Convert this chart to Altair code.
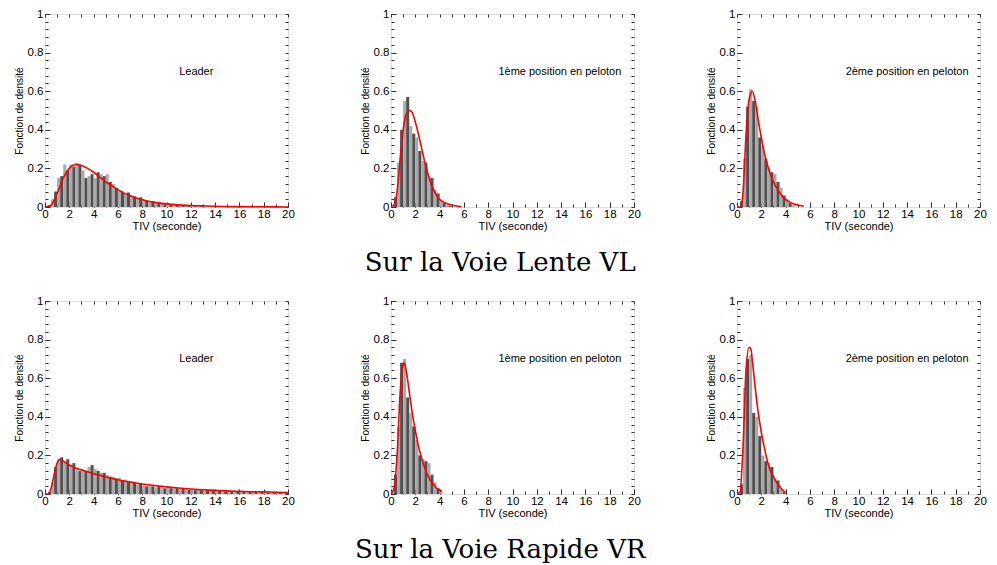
import altair as alt
import pandas as pd

BIN_WIDTH = 0.25
X_MAJOR = [0, 2, 4, 6, 8, 10, 12, 14, 16, 18, 20]
X_MINOR = list(range(21))
Y_MAJOR = [0, 0.2, 0.4, 0.6, 0.8, 1.0]
Y_MINOR = [round(i * 0.04, 2) for i in range(26)]

# ---- Voie Lente (VL) ----
vl_leader_hist = [0.0, 0.01, 0.04, 0.08, 0.15, 0.16, 0.22, 0.19, 0.22, 0.21, 0.23, 0.22,
                  0.19, 0.15, 0.16, 0.17, 0.15, 0.18, 0.17, 0.16, 0.17, 0.13, 0.12, 0.10,
                  0.085, 0.08, 0.07, 0.075, 0.06, 0.055, 0.045, 0.05, 0.04, 0.035, 0.03, 0.03,
                  0.02, 0.025, 0.02, 0.015, 0.02, 0.012, 0.012, 0.01, 0.012, 0.008, 0.009, 0.007,
                  0.008, 0.006, 0.006, 0.005]
vl_leader_tx = [0, 0.5, 1, 1.5, 2, 2.5, 3, 3.5, 4, 4.5, 5, 5.5, 6, 6.5, 7, 7.5, 8, 8.5, 9,
                10, 11, 12, 13, 14, 16, 18, 20]
vl_leader_ty = [0, 0.01, 0.07, 0.15, 0.2, 0.22, 0.215, 0.2, 0.18, 0.155, 0.13, 0.11, 0.09,
                0.072, 0.058, 0.047, 0.038, 0.03, 0.024, 0.016, 0.011, 0.008, 0.006, 0.004,
                0.002, 0.001, 0.0]

vl_p1_hist = [0.0, 0.05, 0.23, 0.40, 0.55, 0.57, 0.42, 0.38, 0.36, 0.29, 0.24, 0.23,
              0.16, 0.15, 0.09, 0.07, 0.03, 0.02, 0.01, 0.005]
vl_p1_tx = [0, 0.25, 0.5, 0.75, 1.0, 1.25, 1.5, 1.75, 2.0, 2.25, 2.5, 2.75, 3.0, 3.25, 3.5,
            3.75, 4.0, 4.5, 5.0, 5.5, 5.8]
vl_p1_ty = [0, 0.01, 0.08, 0.25, 0.40, 0.48, 0.50, 0.49, 0.44, 0.38, 0.31, 0.24, 0.18, 0.13,
            0.09, 0.06, 0.04, 0.02, 0.01, 0.004, 0.002]

vl_p2_hist = [0.0, 0.03, 0.25, 0.52, 0.61, 0.55, 0.52, 0.36, 0.32, 0.25, 0.20, 0.18,
              0.17, 0.13, 0.10, 0.06, 0.04, 0.02, 0.01]
vl_p2_tx = [0, 0.25, 0.4, 0.5, 0.75, 1.0, 1.25, 1.5, 1.75, 2.0, 2.25, 2.5, 2.75, 3.0, 3.25,
            3.5, 3.75, 4.0, 4.5, 5.0, 5.5]
vl_p2_ty = [0, 0.0, 0.02, 0.08, 0.38, 0.56, 0.60, 0.55, 0.45, 0.36, 0.28, 0.22, 0.17, 0.13,
            0.10, 0.075, 0.055, 0.04, 0.02, 0.01, 0.004]

# ---- Voie Rapide (VR) ----
vr_leader_hist = [0.0, 0.01, 0.06, 0.14, 0.18, 0.19, 0.17, 0.18, 0.15, 0.16, 0.13, 0.12,
                  0.12, 0.12, 0.14, 0.15, 0.13, 0.12, 0.11, 0.11, 0.10, 0.09, 0.09, 0.08,
                  0.085, 0.07, 0.075, 0.065, 0.065, 0.06, 0.05, 0.055, 0.045, 0.04, 0.045, 0.04,
                  0.035, 0.04, 0.035, 0.03, 0.035, 0.03, 0.028, 0.03, 0.025, 0.028, 0.025, 0.022,
                  0.025, 0.02, 0.022, 0.02, 0.018, 0.02, 0.017, 0.018, 0.015, 0.017, 0.014, 0.015,
                  0.013, 0.014, 0.012, 0.013, 0.011, 0.012, 0.01, 0.011, 0.009, 0.01, 0.009, 0.01,
                  0.008, 0.009, 0.008, 0.008, 0.007, 0.008, 0.006, 0.007]
vr_leader_tx = [0, 0.25, 0.5, 0.75, 1.0, 1.25, 1.5, 1.75, 2.0, 2.5, 3, 3.5, 4, 4.5, 5, 6, 7,
                8, 9, 10, 11, 12, 13, 14, 15, 16, 17, 18, 19, 20]
vr_leader_ty = [0, 0.0, 0.03, 0.10, 0.16, 0.18, 0.17, 0.16, 0.15, 0.135, 0.125, 0.115, 0.105,
                0.097, 0.088, 0.074, 0.062, 0.052, 0.044, 0.037, 0.031, 0.026, 0.022, 0.019,
                0.016, 0.014, 0.012, 0.011, 0.009, 0.008]

vr_p1_hist = [0.01, 0.10, 0.35, 0.68, 0.70, 0.50, 0.42, 0.35, 0.28, 0.20, 0.18, 0.17,
              0.16, 0.10, 0.06, 0.03, 0.01]
vr_p1_tx = [0, 0.25, 0.5, 0.75, 1.0, 1.1, 1.25, 1.5, 1.75, 2.0, 2.25, 2.5, 2.75, 3.0, 3.25,
            3.5, 3.75, 4.0, 4.2]
vr_p1_ty = [0, 0.03, 0.20, 0.52, 0.67, 0.68, 0.64, 0.53, 0.42, 0.33, 0.25, 0.19, 0.14, 0.10,
            0.07, 0.05, 0.03, 0.02, 0.015]

vr_p2_hist = [0.0, 0.05, 0.55, 0.70, 0.72, 0.42, 0.40, 0.30, 0.20, 0.17, 0.16, 0.14,
              0.08, 0.07, 0.03, 0.01]
vr_p2_tx = [0, 0.25, 0.5, 0.75, 1.0, 1.15, 1.25, 1.5, 1.75, 2.0, 2.25, 2.5, 2.75, 3.0, 3.25,
            3.5, 3.75, 4.0]
vr_p2_ty = [0, 0.01, 0.25, 0.65, 0.76, 0.75, 0.70, 0.55, 0.42, 0.32, 0.24, 0.17, 0.12, 0.09,
            0.06, 0.04, 0.02, 0.01]

LABELS = ["Leader", "1ème position en peloton", "2ème position en peloton"]
LABEL_X = [12.45, 13.9, 14.0]
LABEL_Y = 0.7

SANS = "Liberation Sans"
W, H = 243, 193
TICK = "#333333"

xs = alt.Scale(domain=[0, 20], nice=False, zero=False, padding=0)
ys = alt.Scale(domain=[0, 1], nice=False, padding=0)


def panel(hist, tx, ty, label, lx):
    bars_df = pd.DataFrame({
        "x0": [i * BIN_WIDTH for i in range(len(hist))],
        "x1": [(i + 1) * BIN_WIDTH for i in range(len(hist))],
        "d": hist,
        "shade": ["a" if i % 2 == 0 else "b" for i in range(len(hist))],
    })
    curve_df = pd.DataFrame({"t": tx, "f": ty})
    text_df = pd.DataFrame({"x": [lx], "y": [LABEL_Y], "txt": [label]})

    bars = alt.Chart(bars_df).mark_rect(strokeWidth=0).encode(
        x=alt.X("x0:Q", scale=xs, axis=alt.Axis(
            values=X_MAJOR, format="d", title="TIV (seconde)", orient="bottom",
            offset=-5, tickSize=5, domain=False, grid=False, labelFont=SANS,
            labelFontSize=11.5, labelColor="black", tickColor=TICK, labelPadding=1,
            titleFont=SANS, titleFontSize=11, titleFontWeight="normal",
            titleColor="black", titlePadding=1, labelFlush=False)),
        x2="x1:Q",
        y=alt.Y("d:Q", scale=ys, axis=alt.Axis(
            values=Y_MAJOR, format="~g", title="Fonction de densité", orient="left",
            offset=-5, tickSize=5, domain=False, grid=False, labelFont=SANS,
            labelFontSize=11.5, labelColor="black", tickColor=TICK, labelPadding=2,
            titleFont=SANS, titleFontSize=10, titleFontWeight="normal",
            titleColor="black", titlePadding=3, labelFlush=False)),
        y2=alt.datum(0),
        color=alt.Color("shade:N", scale=alt.Scale(domain=["a", "b"],
                                                    range=["#a9a9a9", "#505050"]),
                        legend=None),
    )
    line = alt.Chart(curve_df).mark_line(color="#ff0000", strokeWidth=1.6,
                                         interpolate="monotone").encode(
        x=alt.X("t:Q", scale=xs, axis=alt.Axis(
            values=X_MINOR, labels=False, title=None, orient="top", offset=-3,
            tickSize=3, domain=False, grid=False, tickColor=TICK)),
        y=alt.Y("f:Q", scale=ys, axis=alt.Axis(
            values=Y_MINOR, labels=False, title=None, orient="right", offset=-3,
            tickSize=3, domain=False, grid=False, tickColor=TICK)),
    )
    text = alt.Chart(text_df).mark_text(font=SANS, fontSize=11, color="black").encode(
        x=alt.X("x:Q", scale=xs, axis=alt.Axis(
            values=X_MINOR, labels=False, title=None, orient="bottom", offset=-3,
            tickSize=3, domain=False, grid=False, tickColor=TICK)),
        y=alt.Y("y:Q", scale=ys, axis=alt.Axis(
            values=Y_MINOR, labels=False, title=None, orient="left", offset=-3,
            tickSize=3, domain=False, grid=False, tickColor=TICK)),
        text="txt:N",
    )
    return alt.layer(bars, line, text).resolve_axis(
        x="independent", y="independent").properties(width=W, height=H)


def row(panels, title):
    return alt.hconcat(*panels, spacing=64).properties(
        title=alt.TitleParams(title, orient="bottom", anchor="middle",
                              font="DejaVu Serif", fontSize=26,
                              fontWeight="normal", color="black", offset=18))


row1 = row([
    panel(vl_leader_hist, vl_leader_tx, vl_leader_ty, LABELS[0], LABEL_X[0]),
    panel(vl_p1_hist, vl_p1_tx, vl_p1_ty, LABELS[1], LABEL_X[1]),
    panel(vl_p2_hist, vl_p2_tx, vl_p2_ty, LABELS[2], LABEL_X[2]),
], "Sur la Voie Lente VL")

row2 = row([
    panel(vr_leader_hist, vr_leader_tx, vr_leader_ty, LABELS[0], LABEL_X[0]),
    panel(vr_p1_hist, vr_p1_tx, vr_p1_ty, LABELS[1], LABEL_X[1]),
    panel(vr_p2_hist, vr_p2_tx, vr_p2_ty, LABELS[2], LABEL_X[2]),
], "Sur la Voie Rapide VR")

chart = alt.vconcat(row1, row2, spacing=18).properties(
    padding={"left": 5, "top": -1, "right": 0, "bottom": 0}
).configure_view(stroke="#666666", strokeWidth=1.2).configure(background="white")

chart.save("out.html", embed_options={"renderer": "svg", "actions": False})
